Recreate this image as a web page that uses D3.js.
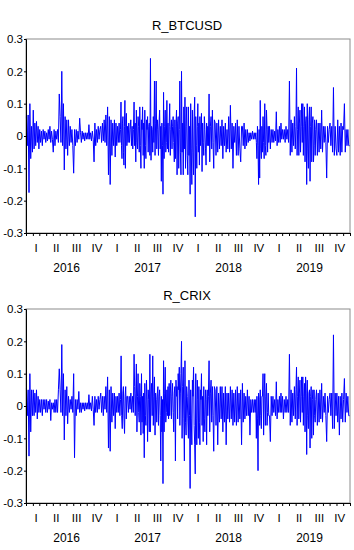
<!DOCTYPE html>
<html>
<head>
<meta charset="utf-8">
<script src="https://cdn.jsdelivr.net/npm/d3@7"></script>
<style>
  body { margin: 0; background: #fff; }
  svg text { font-family: "Liberation Sans", Arial, sans-serif; fill: #000; }
</style>
</head>
<body>
<div id="chart"></div>
<script>
// daily returns, one row per month, Jan 2016 .. Dec 2019
// (busier months carry more values)
var btc = [
  // 2016
  [0.06,-0.03,0.065,-0.175,0.1,-0.07,0.03,-0.05],
  [0.08,-0.04,0.04,-0.03,0.045,-0.02,0.03,-0.04],
  [0.02,-0.02,0.015,-0.03,0.02,-0.01,0.015,-0.02],
  [0.01,-0.015,0.02,-0.01,0.03,-0.02,0.015,-0.01],
  [-0.05,0.02,-0.03,0.015,-0.01,0.02,-0.02,0.13],
  [0.06,-0.02,0.2,-0.03,0.1,-0.105,0.06,-0.04],
  [0.05,-0.06,0.05,-0.03,0.03,-0.02,0.02,-0.03],
  [-0.115,0.02,-0.03,0.02,-0.02,0.015,-0.01,0.055],
  [0.01,-0.02,0.015,-0.01,0.01,-0.015,0.01,-0.01],
  [0.01,-0.01,0.035,-0.01,0.01,-0.015,0.015,-0.01],
  [-0.08,0.04,-0.03,0.02,-0.02,0.03,-0.01,0.02],
  [0.03,-0.02,0.04,-0.015,0.05,-0.02,0.065,-0.03],
  // 2017
  [0.09,-0.12,0.06,-0.15,0.05,-0.06,0.04,-0.03],
  [0.05,-0.065,0.04,-0.03,0.03,-0.02,0.04,-0.02],
  [0.02,0.105,-0.03,-0.07,0.04,0.06,-0.05,-0.09,0.03,0.11,-0.1,0.05,0.07,-0.03],
  [0.03,-0.02,0.04,-0.02,0.02,0.05,-0.03,0.03,-0.04,0.02],
  [0.105,-0.03,0.04,-0.08,0.08,-0.02,-0.04,0.06,0.03,-0.05,0.09,-0.03],
  [-0.1,0.05,0.02,0.09,-0.06,0.04,-0.1,0.08,-0.03,-0.07,0.05,0.02],
  [0.06,-0.05,0.03,0.04,-0.06,0.24,-0.075,0.03,0.02,-0.05,0.06,-0.02],
  [0.17,-0.06,0.04,0.17,-0.04,0.05,0.02,-0.06,0.04,0.08,-0.04,0.03],
  [-0.14,0.04,-0.03,-0.18,0.135,-0.07,0.03,0.08,-0.05,-0.02,0.11,-0.04],
  [0.04,-0.05,0.03,0.1,-0.06,0.02,0.05,-0.04,0.03,0.06,-0.02,-0.08],
  [0.05,-0.07,0.03,0.08,-0.12,0.04,0.06,-0.1,0.02,0.17,-0.05,-0.12],
  [0.2,-0.05,0.04,-0.12,0.09,-0.04,0.12,-0.1,0.03,0.09,-0.06,-0.12],
  // 2018
  [0.09,-0.06,0.03,-0.18,0.1,-0.04,-0.15,0.08,-0.05,-0.12,0.06,0.12],
  [-0.25,0.06,-0.03,-0.1,0.03,0.1,-0.05,0.04,-0.09,0.06,-0.03,0.02],
  [0.07,-0.11,0.04,-0.02,-0.06,0.06,0.02,-0.04,-0.09,0.04,-0.03,0.03],
  [-0.03,0.13,-0.08,0.03,0.06,-0.04,0.08,-0.02,-0.1,0.05],
  [0.04,-0.06,0.04,-0.05,0.05,-0.04,0.03,-0.03],
  [0.05,-0.07,0.03,-0.03,0.04,-0.05,0.02,-0.04],
  [0.06,-0.05,0.095,-0.04,0.04,-0.1,0.03,-0.02],
  [0.04,-0.06,0.05,-0.06,0.03,-0.04,-0.08,0.03],
  [0.03,-0.03,0.04,-0.04,0.02,-0.03,0.02,-0.02],
  [0.01,-0.015,0.01,-0.01,0.015,-0.01,0.01,-0.01],
  [0.01,-0.02,-0.07,0.03,-0.03,-0.15,0.02,-0.13,0.11,-0.04,-0.07,0.03],
  [-0.05,0.06,-0.02,-0.07,0.1,-0.03,-0.06,0.08,0.02,-0.05,0.03,-0.02],
  // 2019
  [0.03,-0.04,0.02,-0.02,0.02,-0.02,0.015,-0.015],
  [0.075,-0.03,0.02,-0.02,0.03,-0.02,0.04,-0.01],
  [0.02,-0.01,0.02,-0.02,0.03,-0.01,0.02,-0.02],
  [0.17,-0.06,0.05,-0.05,0.04,-0.03,0.06,-0.04],
  [0.03,0.21,-0.06,0.02,0.09,-0.06,0.04,0.08,-0.05,0.03,0.1,-0.02],
  [0.1,-0.06,0.03,0.09,-0.08,0.04,0.06,-0.15,0.1,-0.04,-0.1,0.05],
  [0.09,-0.14,0.03,0.09,-0.08,0.04,0.06,-0.08,-0.03,0.05,-0.06,0.02],
  [0.05,-0.06,0.04,-0.05,0.04,-0.04,0.08,-0.05],
  [0.03,-0.02,0.03,-0.02,-0.13,0.03,-0.02,0.02],
  [0.04,-0.03,0.03,-0.05,0.15,-0.06,0.03,-0.04],
  [-0.06,0.05,-0.05,0.03,-0.06,0.04,-0.05,0.03],
  [0.02,0.1,-0.05,0.02,-0.03,0.02,-0.03,-0.03]
];

var crix = [
  // 2016
  [0.055,-0.03,0.05,-0.155,0.1,-0.08,0.05,-0.03],
  [0.05,-0.03,0.04,-0.02,0.05,-0.04,0.03,-0.02],
  [0.02,-0.02,0.02,-0.03,0.02,-0.01,0.02,-0.02],
  [0.02,-0.02,0.015,-0.01,0.02,-0.045,0.01,-0.01],
  [0.01,-0.02,0.02,-0.02,0.02,-0.02,0.05,0.115],
  [0.05,-0.02,0.19,-0.03,0.1,-0.105,0.05,-0.03],
  [0.06,-0.055,0.03,-0.02,0.02,-0.01,0.03,-0.02],
  [0.1,-0.16,0.02,-0.03,0.02,-0.01,0.045,-0.02],
  [0.01,-0.02,0.01,-0.01,0.01,-0.015,0.01,-0.01],
  [0.01,-0.01,0.035,-0.01,0.01,-0.015,0.03,-0.01],
  [-0.06,0.03,-0.02,0.02,-0.02,0.03,-0.01,0.02],
  [0.04,-0.02,0.03,-0.03,0.03,-0.01,0.06,-0.02],
  // 2017
  [0.09,-0.13,0.05,-0.14,0.06,-0.05,0.04,-0.03],
  [0.04,-0.07,0.03,-0.02,0.03,-0.02,0.04,-0.03],
  [0.02,0.155,-0.03,-0.07,0.04,0.06,-0.04,-0.085,0.03,0.06,-0.04,0.03],
  [0.03,-0.02,0.03,-0.01,0.04,-0.02,0.03,-0.02],
  [0.16,0.06,-0.03,0.04,0.13,-0.08,0.03,0.1,-0.02,-0.05,0.07,0.03],
  [-0.09,0.1,-0.05,0.03,-0.085,0.04,-0.16,0.07,-0.03,-0.06,0.08,0.02],
  [-0.11,0.05,0.02,-0.08,0.16,-0.08,0.04,0.07,-0.03,0.155,-0.06,0.03],
  [0.09,-0.09,0.04,0.02,-0.05,0.04,0.06,-0.06,0.03,0.05,-0.03,-0.17],
  [0.03,-0.08,0.02,-0.24,0.14,-0.08,0.04,0.12,-0.05,-0.02,0.05,-0.03],
  [0.06,-0.04,0.07,-0.03,0.04,0.08,-0.04,0.03,0.07,-0.02,-0.08,0.04],
  [0.06,-0.17,0.08,0.03,0.06,-0.04,0.1,0.05,0.12,-0.06,0.04,0.1],
  [0.2,-0.1,0.06,0.12,-0.04,-0.17,0.14,-0.05,-0.09,0.06,0.03,-0.04],
  // 2018
  [-0.1,0.08,-0.03,-0.255,0.05,-0.04,-0.12,0.08,0.03,0.12,-0.06,-0.12],
  [-0.21,0.1,-0.04,-0.12,0.08,0.02,-0.1,0.06,-0.05,-0.12,0.05,0.02],
  [0.1,-0.06,0.03,-0.11,0.06,-0.04,-0.08,0.05,0.02,-0.12,0.05,-0.03],
  [0.03,0.14,-0.08,0.04,0.08,-0.05,0.06,-0.03,-0.14,0.06],
  [0.05,-0.06,0.06,-0.12,0.04,-0.05,0.06,-0.04],
  [0.06,-0.08,0.04,-0.05,0.06,-0.12,0.04,-0.04],
  [0.04,-0.05,0.06,-0.04,0.05,-0.06,0.04,-0.05],
  [0.05,-0.06,0.06,-0.05,0.04,-0.04,0.05,-0.12],
  [0.07,-0.05,0.04,-0.04,0.03,-0.03,0.05,-0.03],
  [0.03,-0.09,0.02,-0.02,0.02,-0.02,0.02,-0.02],
  [0.02,-0.1,0.03,-0.04,-0.2,0.04,0.02,-0.06,0.05,-0.03,-0.07,0.03],
  [0.03,0.1,-0.09,0.04,0.1,-0.06,0.03,0.07,-0.06,-0.02,0.04,-0.03],
  // 2019
  [-0.03,-0.11,0.03,-0.03,0.03,-0.02,0.02,-0.03],
  [0.075,-0.04,0.02,-0.02,0.03,-0.02,0.04,-0.02],
  [0.03,-0.04,0.02,-0.02,0.03,-0.02,0.02,-0.02],
  [0.16,-0.06,0.05,-0.05,0.04,-0.03,0.06,-0.04],
  [0.05,0.12,-0.06,0.03,0.09,-0.04,0.04,0.08,-0.05,0.03,0.09,-0.02],
  [0.09,-0.06,0.03,0.07,-0.08,0.09,0.04,-0.15,0.08,-0.03,-0.07,0.04],
  [0.05,-0.13,0.03,0.06,-0.1,0.02,0.05,-0.09,0.05,-0.03,-0.05,0.02],
  [0.05,-0.06,0.04,-0.05,0.05,-0.04,0.07,-0.05],
  [0.03,-0.02,0.04,-0.03,-0.11,0.03,-0.02,0.02],
  [0.04,-0.03,0.04,-0.07,0.22,-0.07,0.04,-0.03],
  [0.04,-0.05,0.03,-0.09,0.03,-0.04,0.04,-0.05],
  [0.02,0.085,-0.05,0.04,-0.02,0.03,-0.03,-0.03]
];

var years = ["2016", "2017", "2018", "2019"];
var quarters = ["I", "II", "III", "IV"];
var yTicks = [0.3, 0.2, 0.1, 0, -0.1, -0.2, -0.3];
var yTickLabels = ["0.3", "0.2", "0.1", "0", "-0.1", "-0.2", "-0.3"];

var svgWidth = 354, svgHeight = 550;
var svg = d3.select("#chart").append("svg")
    .attr("width", svgWidth)
    .attr("height", svgHeight);

// turn month rows into dated points
function toPoints(months) {
    var pts = [];
    months.forEach(function(vals, m) {
        var start = new Date(2016, m, 1), end = new Date(2016, m + 1, 1);
        vals.forEach(function(v, k) {
            var t = new Date(+start + (end - start) * (k + 0.5) / vals.length);
            pts.push({date: t, value: v});
        });
    });
    return pts;
}

var x = d3.scaleTime()
    .domain([new Date(2016, 0, 1), new Date(2020, 0, 1)])
    .range([26, 350]);

function panel(title, months, top) {
    var frameTop = top + 26, frameBottom = top + 220;
    var y = d3.scaleLinear().domain([-0.3, 0.3]).range([frameBottom, frameTop]);

    svg.append("text")
        .attr("x", 187).attr("y", top + 17)
        .attr("text-anchor", "middle")
        .attr("font-size", "13px")
        .text(title);

    // frame
    svg.append("rect")
        .attr("x", x.range()[0]).attr("y", frameTop)
        .attr("width", x.range()[1] - x.range()[0])
        .attr("height", frameBottom - frameTop)
        .attr("fill", "none")
        .attr("stroke", "#8c8c8c");

    var line = d3.line()
        .x(d => x(d.date))
        .y(d => y(d.value));

    svg.append("path")
        .datum(toPoints(months))
        .attr("d", line)
        .attr("fill", "none")
        .attr("stroke", "#0000ff")
        .attr("stroke-width", 1);

    // y axis
    var yAxis = d3.axisLeft(y)
        .tickValues(yTicks)
        .tickFormat((d, i) => yTickLabels[i])
        .tickSize(2)
        .tickPadding(1);
    var gy = svg.append("g")
        .attr("transform", `translate(${x.range()[0]},0)`)
        .call(yAxis);
    gy.selectAll("text").attr("font-size", "11.5px").attr("font-family", "Liberation Sans, Arial, sans-serif");
    gy.select(".domain").attr("stroke", "#000");

    // x axis: month ticks
    var xAxis = d3.axisBottom(x)
        .ticks(d3.timeMonth.every(1))
        .tickFormat("")
        .tickSize(3)
        .tickSizeOuter(0);
    var gx = svg.append("g")
        .attr("transform", `translate(0,${frameBottom})`)
        .call(xAxis);
    gx.select(".domain").attr("stroke", "#000");

    // quarter and year labels
    years.forEach(function(yr, yi) {
        quarters.forEach(function(q, qi) {
            var a = new Date(2016 + yi, qi * 3, 1), b = new Date(2016 + yi, qi * 3 + 3, 1);
            svg.append("text")
                .attr("x", (x(a) + x(b)) / 2)
                .attr("y", frameBottom + 19)
                .attr("text-anchor", "middle")
                .attr("font-size", "11.5px")
                .text(q);
        });
        svg.append("text")
            .attr("x", (x(new Date(2016 + yi, 0, 1)) + x(new Date(2017 + yi, 0, 1))) / 2)
            .attr("y", frameBottom + 39)
            .attr("text-anchor", "middle")
            .attr("font-size", "12px")
            .text(yr);
    });
}

panel("R_BTCUSD", btc, 13);
panel("R_CRIX", crix, 283);
</script>
</body>
</html>
